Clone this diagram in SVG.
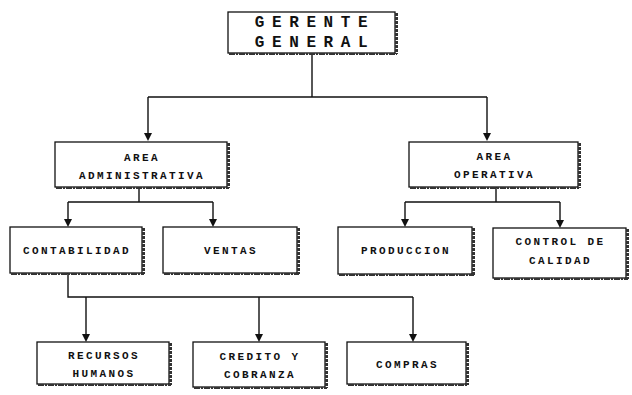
<svg xmlns="http://www.w3.org/2000/svg" width="632" height="395" viewBox="0 0 632 395">
<style>
.box{fill:#fff;stroke:#111;stroke-width:1.3}
.sh{fill:none;stroke:#333;stroke-width:3;stroke-dasharray:3 1}
.shb{fill:none;stroke:#333;stroke-width:2;stroke-dasharray:6 1 2 1}
.t{font-family:"Liberation Mono","DejaVu Sans Mono",monospace;font-size:11px;font-weight:bold;letter-spacing:2.4px;fill:#111;text-anchor:middle}
.tg{font-family:"Liberation Mono","DejaVu Sans Mono",monospace;font-size:16px;font-weight:bold;letter-spacing:7.6px;fill:#111;text-anchor:middle}
.c{fill:none;stroke:#111;stroke-width:1.4}
.ah{fill:#111}
</style>
<rect width="632" height="395" fill="#fff"/>
<g id="connectors">
<path class="c" d="M312 53 V97 M148 97 H487 M148 97 V133 M487 97 V133"/>
<path class="ah" d="M144 133 H152 L148 141 Z M483 133 H491 L487 141 Z"/>
<path class="c" d="M139 187 V202 M68 202 H213 M68 202 V219 M213 202 V219"/>
<path class="ah" d="M64 219 H72 L68 227 Z M209 219 H217 L213 227 Z"/>
<path class="c" d="M496 187 V202 M405 202 H560 M405 202 V219 M560 202 V220"/>
<path class="ah" d="M401 219 H409 L405 227 Z M556 220 H564 L560 228 Z"/>
<path class="c" d="M68 273 V297 H413 M86 297 V334 M259 297 V334 M413 297 V334"/>
<path class="ah" d="M82 334 H90 L86 342 Z M255 334 H263 L259 342 Z M409 334 H417 L413 342 Z"/>
</g>
<g id="gerente">
<rect class="box" x="228" y="12" width="167" height="41"/>
<path class="sh" d="M396.5 13 V54"/><path class="shb" d="M229 54 H397"/>
<text class="tg" x="315" y="27">GERENTE</text>
<text class="tg" x="315" y="47">GENERAL</text>
</g>
<g id="admin">
<rect class="box" x="55" y="142" width="172" height="45"/>
<path class="sh" d="M228.5 143 V188"/><path class="shb" d="M56 188 H229"/>
<text class="t" x="142" y="161">AREA</text>
<text class="t" x="142" y="179">ADMINISTRATIVA</text>
</g>
<g id="operativa">
<rect class="box" x="409" y="142" width="169" height="45"/>
<path class="sh" d="M579.5 143 V188"/><path class="shb" d="M410 188 H580"/>
<text class="t" x="494.5" y="160">AREA</text>
<text class="t" x="494.5" y="178">OPERATIVA</text>
</g>
<g id="contabilidad">
<rect class="box" x="10" y="227" width="132" height="46"/>
<path class="sh" d="M143.5 228 V274"/><path class="shb" d="M11 274 H144"/>
<text class="t" x="77" y="254">CONTABILIDAD</text>
</g>
<g id="ventas">
<rect class="box" x="163" y="227" width="134" height="46"/>
<path class="sh" d="M298.5 228 V274"/><path class="shb" d="M164 274 H299"/>
<text class="t" x="231" y="254">VENTAS</text>
</g>
<g id="produccion">
<rect class="box" x="338" y="227" width="134" height="47"/>
<path class="sh" d="M473.5 228 V275"/><path class="shb" d="M339 275 H474"/>
<text class="t" x="406" y="254">PRODUCCION</text>
</g>
<g id="control">
<rect class="box" x="493" y="228" width="133" height="50"/>
<path class="sh" d="M627.5 229 V279"/><path class="shb" d="M494 279 H628"/>
<text class="t" x="560.5" y="245">CONTROL DE</text>
<text class="t" x="560.5" y="264">CALIDAD</text>
</g>
<g id="recursos">
<rect class="box" x="37" y="342" width="132" height="42"/>
<path class="sh" d="M170.5 343 V385"/><path class="shb" d="M38 385 H171"/>
<text class="t" x="104" y="359">RECURSOS</text>
<text class="t" x="104" y="377">HUMANOS</text>
</g>
<g id="credito">
<rect class="box" x="193" y="342" width="132" height="45"/>
<path class="sh" d="M326.5 343 V388"/><path class="shb" d="M194 388 H327"/>
<text class="t" x="260" y="360">CREDITO Y</text>
<text class="t" x="260" y="378">COBRANZA</text>
</g>
<g id="compras">
<rect class="box" x="347" y="342" width="119" height="42"/>
<path class="sh" d="M467.5 343 V385"/><path class="shb" d="M348 385 H468"/>
<text class="t" x="407.5" y="368">COMPRAS</text>
</g>
</svg>
